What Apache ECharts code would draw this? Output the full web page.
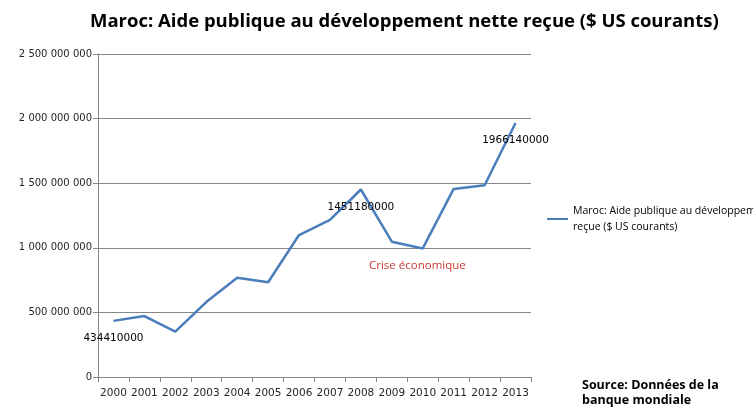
<!DOCTYPE html>
<html>
<head>
<meta charset="utf-8">
<script src="https://cdn.jsdelivr.net/npm/echarts@6/dist/echarts.min.js"></script>
<style>
  html, body { margin: 0; padding: 0; background: #fff; }
  #chart { width: 753px; height: 408px; }
</style>
</head>
<body>
<div id="chart"></div>
<script>
// Années (axe des catégories)
const years = ['2000', '2001', '2002', '2003', '2004', '2005', '2006',
               '2007', '2008', '2009', '2010', '2011', '2012', '2013'];

// Aide publique au développement nette reçue, $ US courants
const aideNette = [434410000, 472000000, 351000000, 580000000, 769000000, 733000000, 1099000000,
                   1216000000, 1451180000, 1047000000, 995000000, 1456000000, 1484000000, 1966140000];

// Années dont la valeur est affichée sur la courbe
const labelledYears = ['2000', '2008', '2013'];

// Graduations de l'axe vertical
const yTicks = [0, 500000000, 1000000000, 1500000000, 2000000000, 2500000000];

const seriesName = 'Maroc: Aide publique au développement nette reçue ($ US courants)';
const titleText = 'Maroc: Aide publique au développement nette reçue ($ US courants)';
const noteText = 'Crise économique';
const sourceText = 'Source: Données de la\nbanque mondiale';

const grey = '#868686';
const lineColor = '#4a7ebb';

function spaced(v) {
  return String(v).replace(/\B(?=(\d{3})+(?!\d))/g, ' ');
}

const chart = echarts.init(document.getElementById('chart'), null, { renderer: 'canvas' });

chart.setOption({
  animation: false,
  backgroundColor: '#ffffff',
  title: {
    text: titleText,
    left: 90,
    top: 12,
    padding: 0,
    textStyle: {
      fontFamily: 'Open Sans',
      fontWeight: 'bold',
      fontSize: 18.5,
      color: '#000000'
    }
  },
  grid: { left: 98, right: 222, top: 54, bottom: 31, containLabel: false },
  legend: {
    left: 547,
    top: 195,
    padding: 0,
    icon: 'rect',
    itemWidth: 21,
    itemHeight: 2,
    itemGap: 0,
    data: [seriesName],
    formatter: function () {
      return 'Maroc: Aide publique au développement nette\nreçue ($ US courants)';
    },
    textStyle: {
      fontFamily: 'Open Sans',
      fontSize: 10.5,
      color: '#000000',
      lineHeight: 16,
      padding: [16, 0, 0, 0]
    }
  },
  xAxis: {
    type: 'category',
    data: years,
    boundaryGap: true,
    axisLine: { lineStyle: { color: grey, width: 1 } },
    axisTick: { show: true, length: 5, alignWithLabel: false, lineStyle: { color: grey } },
    axisLabel: {
      fontFamily: 'DejaVu Sans',
      fontSize: 10.5,
      color: '#262626',
      margin: 11,
      interval: 0
    },
    splitLine: { show: false }
  },
  yAxis: {
    type: 'value',
    min: yTicks[0],
    max: yTicks[yTicks.length - 1],
    interval: yTicks[1] - yTicks[0],
    axisLine: { show: true, lineStyle: { color: grey, width: 1 } },
    axisTick: { show: true, length: 5, lineStyle: { color: grey } },
    axisLabel: {
      fontFamily: 'DejaVu Sans',
      fontSize: 10,
      color: '#262626',
      margin: 6,
      formatter: spaced
    },
    splitLine: { show: true, lineStyle: { color: grey, width: 1 } }
  },
  series: [{
    name: seriesName,
    type: 'line',
    data: aideNette.map(function (v, i) {
      const item = { value: v };
      if (labelledYears.indexOf(years[i]) >= 0) {
        item.label = { show: true };
      }
      return item;
    }),
    symbol: 'circle',
    symbolSize: 0,
    showSymbol: true,
    color: lineColor,
    lineStyle: { color: lineColor, width: 2.5 },
    label: {
      show: false,
      position: 'bottom',
      distance: 12,
      fontFamily: 'DejaVu Sans',
      fontSize: 10.5,
      color: '#000000',
      formatter: function (p) { return String(p.value); }
    },
    z: 3
  }],
  graphic: [
    {
      type: 'text',
      left: 369,
      top: 260,
      style: {
        text: noteText,
        fontFamily: 'Open Sans',
        fontSize: 11.5,
        fill: '#cc3a33'
      }
    },
    {
      type: 'text',
      left: 582,
      top: 378,
      style: {
        text: sourceText,
        fontFamily: 'Open Sans',
        fontWeight: 'bold',
        fontSize: 12.5,
        lineHeight: 15,
        fill: '#000000'
      }
    }
  ]
});
</script>
</body>
</html>
